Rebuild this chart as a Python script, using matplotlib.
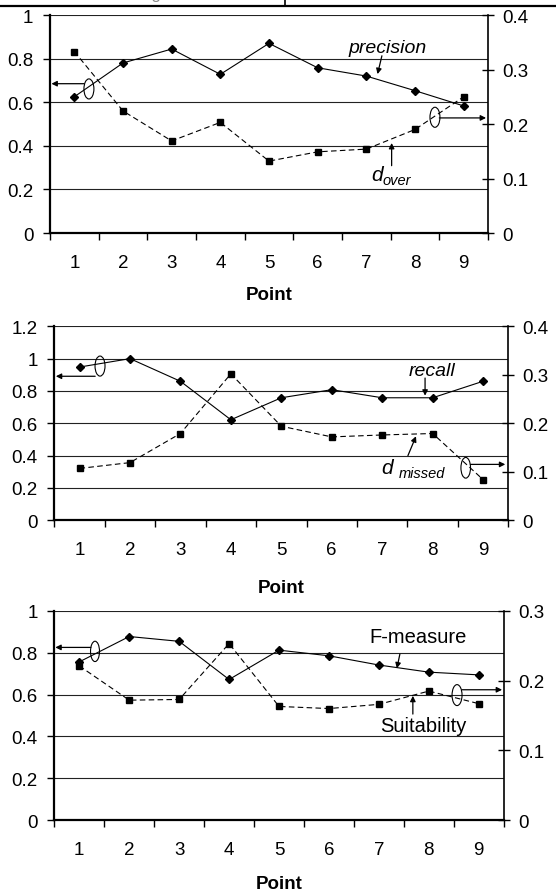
import numpy as np
import matplotlib
matplotlib.use('Agg')
import matplotlib.pyplot as plt
from matplotlib.patches import Ellipse
from matplotlib.ticker import FuncFormatter
from matplotlib.lines import Line2D

plt.rcParams['font.family'] = ['Liberation Sans', 'DejaVu Sans']

# data
points = np.arange(1, 10)
precision = [0.625, 0.78, 0.844, 0.728, 0.870, 0.758, 0.720, 0.653, 0.583]
d_over = [0.333, 0.224, 0.169, 0.203, 0.132, 0.149, 0.154, 0.190, 0.250]
recall = [0.948, 1.0, 0.86, 0.622, 0.758, 0.808, 0.758, 0.758, 0.86]
d_missed = [0.107, 0.119, 0.179, 0.302, 0.194, 0.172, 0.176, 0.179, 0.084]
f_measure = [0.756, 0.877, 0.854, 0.672, 0.812, 0.785, 0.741, 0.707, 0.694]
suitability = [0.221, 0.172, 0.173, 0.253, 0.163, 0.160, 0.166, 0.185, 0.167]

fig = plt.figure(figsize=(5.56, 8.95), dpi=100)

fmt = FuncFormatter(lambda v, p: f'{round(v, 2):g}')
TS = 13.5  # tick label size


def panel(rect, left_vals, right_vals, lmax, lstep, rmax, rstep, label_y):
    ax = fig.add_axes(rect)
    ax.set_xlim(0.5, 9.5)
    ax.set_ylim(0, lmax)
    ax.set_yticks(np.arange(0, lmax + 1e-6, lstep))
    ax.yaxis.set_major_formatter(fmt)
    ax.set_xticks(points)
    ax.set_xticks(np.arange(0.5, 10, 1), minor=True)
    ax.tick_params(axis='x', which='major', length=0, pad=15, labelsize=TS)
    ax.tick_params(axis='x', which='minor', length=5, width=1, direction='out')
    ax.tick_params(axis='y', length=5, width=1, pad=7, labelsize=TS)
    ax.yaxis.grid(True, color='#222222', lw=0.8)
    ax.set_axisbelow(True)
    for s in ['top', 'right']:
        ax.spines[s].set_visible(False)
    ax.spines['left'].set_linewidth(1.6)
    ax.spines['bottom'].set_linewidth(1.6)
    ax.set_xlabel('Point', fontsize=13.5, fontweight='bold')
    ax.xaxis.set_label_coords(0.5, label_y)

    ax.plot(points, left_vals, color='black', lw=0.8, marker='D', ms=4.5)

    tw = ax.twinx()
    tw.set_ylim(0, rmax)
    tw.set_yticks(np.arange(0, rmax + 1e-6, rstep))
    tw.yaxis.set_major_formatter(fmt)
    tw.tick_params(axis='y', direction='inout', length=8.5, width=1, pad=6,
                   labelsize=TS)
    for s in ['top', 'left', 'bottom']:
        tw.spines[s].set_visible(False)
    tw.spines['right'].set_linewidth(1.2)
    tw.plot(points, right_vals, color='black', lw=0.8, ls=(0, (5, 3)),
            marker='s', ms=5)
    return ax


def pointer(ax, start, end):
    ax.annotate('', xy=end, xytext=start,
                arrowprops=dict(arrowstyle='-|>', color='black', lw=0.9,
                                mutation_scale=8, shrinkA=0, shrinkB=0))


def ring(ax, xy, w, h, start, end):
    ax.add_patch(Ellipse(xy, w, h, fill=False, ec='black', lw=0.8, zorder=5))
    pointer(ax, start, end)


def dlabel(ax, xd, yd, sub, xs, ys):
    ax.text(xd, yd, 'd', style='italic', fontsize=15, ha='right', va='baseline')
    ax.text(xs, ys, sub, style='italic', fontsize=10.5, ha='left', va='baseline')


# top panel
ax1 = panel([0.0899, 0.7385, 0.7878, 0.2436], precision, d_over,
            1.0, 0.2, 0.4, 0.1, -0.243)
ring(ax1, (1.30, 0.661), 0.205, 0.092, (1.20, 0.685), (0.53, 0.685))
ring(ax1, (8.41, 0.531), 0.205, 0.092, (8.50, 0.528), (9.46, 0.528))
ax1.text(7.44, 0.852, 'precision', style='italic', fontsize=14,
         ha='center', va='center')
pointer(ax1, (7.32, 0.813), (7.23, 0.729))
dlabel(ax1, 7.336, 0.243, 'over', 7.34, 0.225)
pointer(ax1, (7.52, 0.309), (7.52, 0.413))

# middle panel
ax2 = panel([0.0977, 0.4175, 0.8165, 0.2168], recall, d_missed,
            1.2, 0.2, 0.4, 0.1, -0.303)
ring(ax2, (1.406, 0.954), 0.198, 0.124, (1.31, 0.891), (0.53, 0.891))
ring(ax2, (8.656, 0.325), 0.19, 0.128, (8.75, 0.346), (9.44, 0.346))
ax2.text(7.99, 0.925, 'recall', style='italic', fontsize=14,
         ha='center', va='center')
pointer(ax2, (7.85, 0.880), (7.85, 0.771))
dlabel(ax2, 7.209, 0.293, 'missed', 7.32, 0.270)
pointer(ax2, (7.51, 0.40), (7.67, 0.52))

# bottom panel
ax3 = panel([0.0977, 0.0823, 0.8083, 0.2342], f_measure, suitability,
            1.0, 0.2, 0.3, 0.1, -0.262)
ring(ax3, (1.315, 0.806), 0.18, 0.097, (1.23, 0.825), (0.52, 0.825))
ring(ax3, (8.565, 0.5975), 0.2, 0.1, (8.665, 0.623), (9.467, 0.623))
ax3.text(7.78, 0.8755, 'F-measure', fontsize=14.5, ha='center', va='center')
pointer(ax3, (7.42, 0.793), (7.36, 0.725))
ax3.text(7.88, 0.454, 'Suitability', fontsize=14.5, ha='center', va='center')
pointer(ax3, (7.68, 0.507), (7.68, 0.594))

# clipped table border at the very top
fig.add_artist(Line2D([0, 1], [1 - 7 / 895, 1 - 7 / 895], color='black', lw=1.6,
                      transform=fig.transFigure))
fig.add_artist(Line2D([285 / 556, 285 / 556], [1 - 7 / 895, 1], color='black',
                      lw=1.2, transform=fig.transFigure))
fig.text(140 / 556, 1 + 1 / 895, 'Average', color='#888888', fontsize=12,
         ha='center', va='baseline')
fig.text(430 / 556, 1 + 1 / 895, 'Classes', color='#888888', fontsize=12,
         ha='center', va='baseline')

fig.savefig('out.png', dpi=100)
